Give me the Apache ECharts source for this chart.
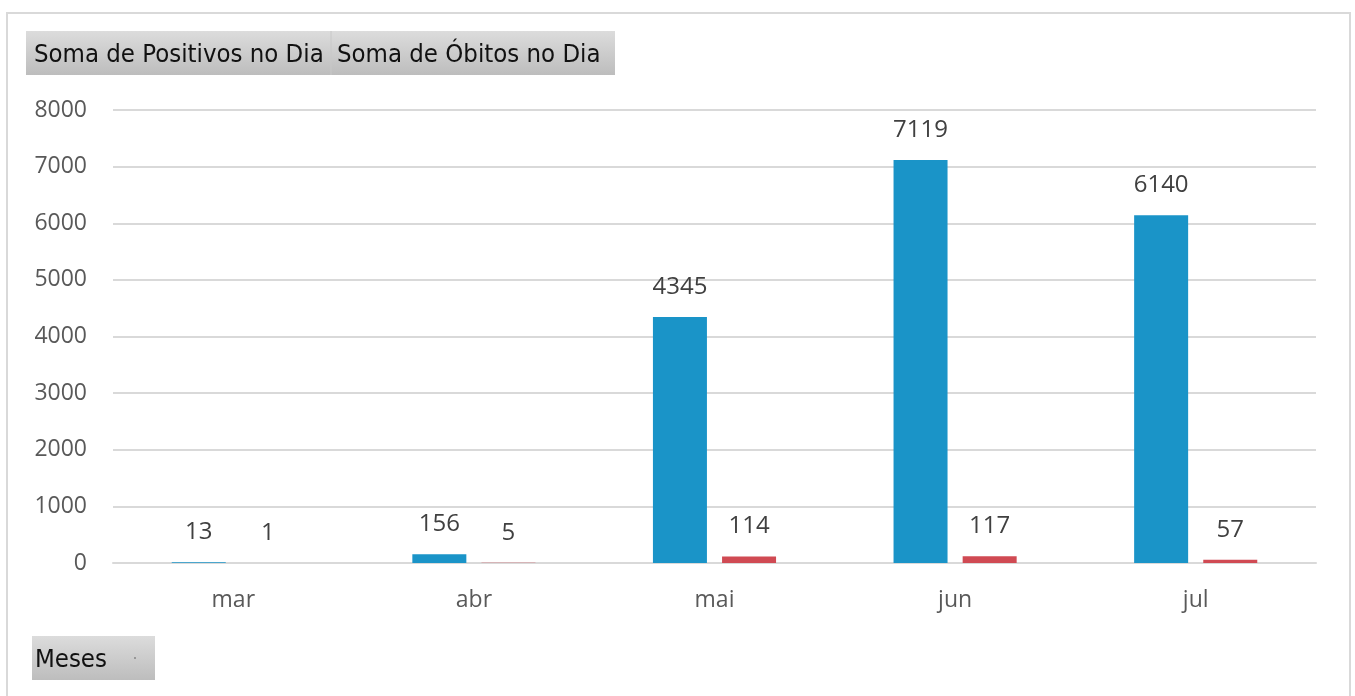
<!DOCTYPE html>
<html>
<head>
<meta charset="utf-8">
<script src="https://cdn.jsdelivr.net/npm/echarts@6/dist/echarts.min.js"></script>
<style>
  html, body { margin: 0; padding: 0; background: #fff; }
  #chart { width: 1355px; height: 696px; }
</style>
</head>
<body>
<div id="chart"></div>
<script>
// dados
const meses = ['mar', 'abr', 'mai', 'jun', 'jul'];
const positivos = [13, 156, 4345, 7119, 6140];
const obitos = [1, 5, 114, 117, 57];
const yTicks = [0, 1000, 2000, 3000, 4000, 5000, 6000, 7000, 8000];

const chart = echarts.init(document.getElementById('chart'));

const btnFill = new echarts.graphic.LinearGradient(0, 0, 0, 1, [
  { offset: 0, color: '#dcdcdc' },
  { offset: 1, color: '#bdbdbd' }
]);

const labelStyle = {
  show: true,
  position: 'top',
  distance: 18,
  color: '#404040',
  fontSize: 24,
  fontFamily: 'Open Sans'
};

const option = {
  animation: false,
  grid: { left: 113, right: 39, top: 110, bottom: 133 },
  xAxis: {
    type: 'category',
    data: meses,
    axisTick: { show: false },
    axisLine: { lineStyle: { color: '#d9d9d9', width: 2 } },
    axisLabel: { color: '#595959', fontSize: 23, fontFamily: 'Open Sans', margin: 26 }
  },
  yAxis: {
    type: 'value',
    min: yTicks[0],
    max: yTicks[yTicks.length - 1],
    interval: 1000,
    axisLabel: {
      color: '#595959', fontSize: 23, fontFamily: 'Open Sans', margin: 26,
      formatter: v => String(v)
    },
    splitLine: { lineStyle: { color: '#d9d9d9', width: 2 } }
  },
  series: [
    {
      name: 'Soma de Positivos no Dia',
      type: 'bar',
      data: positivos,
      barWidth: 54,
      barGap: '28%',
      itemStyle: { color: '#1a94c8' },
      label: labelStyle
    },
    {
      name: 'Soma de Óbitos no Dia',
      type: 'bar',
      data: obitos,
      barWidth: 54,
      itemStyle: { color: '#d04a53' },
      label: labelStyle
    }
  ],
  graphic: [
    { // moldura
      type: 'rect', silent: true, z: -10,
      shape: { x: 7, y: 13, width: 1343, height: 700 },
      style: { fill: 'none', stroke: '#d9d9d9', lineWidth: 2 }
    },
    { // botões de campo
      type: 'rect', shape: { x: 26, y: 31, width: 589, height: 44 },
      style: { fill: btnFill }
    },
    {
      type: 'line', shape: { x1: 331, y1: 31, x2: 331, y2: 75 },
      style: { stroke: '#c8c8c8', lineWidth: 1 }
    },
    {
      type: 'text', x: 34, y: 55,
      style: { text: 'Soma de Positivos no Dia', fill: '#111', font: '25.5px "DejaVu Sans Condensed"', verticalAlign: 'middle' }
    },
    {
      type: 'text', x: 337, y: 55,
      style: { text: 'Soma de Óbitos no Dia', fill: '#111', font: '25.5px "DejaVu Sans Condensed"', verticalAlign: 'middle' }
    },
    {
      type: 'rect', shape: { x: 32, y: 636, width: 123, height: 44 },
      style: { fill: btnFill }
    },
    {
      type: 'text', x: 35, y: 660,
      style: { text: 'Meses', fill: '#111', font: '25.5px "DejaVu Sans Condensed"', verticalAlign: 'middle' }
    },
    {
      type: 'circle', shape: { cx: 135, cy: 658, r: 0.8 },
      style: { fill: '#555' }
    }
  ]
};

chart.setOption(option);
</script>
</body>
</html>
